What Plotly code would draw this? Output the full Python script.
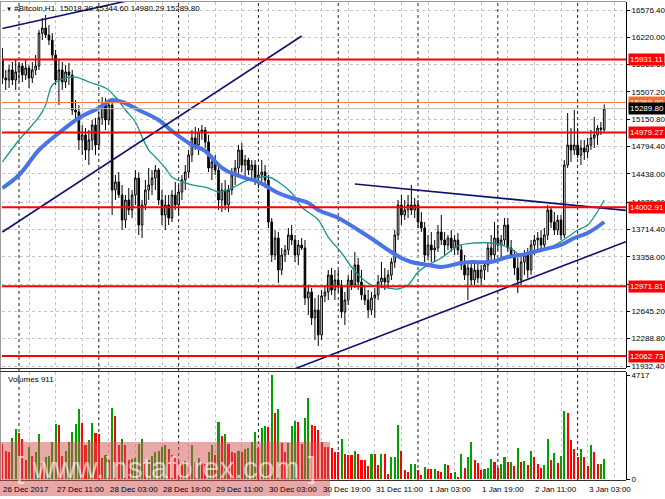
import plotly.graph_objects as go

W, H = 665, 499

# ---------------- data ----------------
time_labels = ["26 Dec 2017", "27 Dec 11:00", "28 Dec 03:00", "28 Dec 19:00", "29 Dec 11:00",
               "30 Dec 03:00", "30 Dec 19:00", "31 Dec 11:00", "1 Jan 03:00", "1 Jan 19:00",
               "2 Jan 11:00", "3 Jan 03:00"]
time_label_bars = [0, 16, 32, 48, 64, 80, 96, 112, 128, 144, 160, 176]
day_separator_bars = [5, 29, 53, 77, 101, 125, 149, 173]

open_ = [15924, 15689, 15663, 15794, 15663, 15768, 15846, 15728, 15820, 15689,
         15794, 15846, 16276, 16342, 16250, 16185, 15989, 15663, 15794, 15637,
         15768, 15728, 15272, 15246, 14881, 14946, 14750, 14881, 15076, 14815,
         15168, 15337, 15141, 15337, 14228, 14333, 14163, 13837, 14098, 13967,
         14163, 14385, 13772, 14033, 14228, 14294, 14385, 14489, 14098, 13902,
         14033, 13863, 14163, 14033, 14202, 14359, 14463, 14685, 14907, 14815,
         14985, 15011, 14854, 14515, 14594, 14489, 14098, 14228, 14033, 14228,
         14424, 14515, 14750, 14554, 14620, 14489, 14554, 14385, 14424, 14463,
         14359, 13811, 13380, 13602, 13185, 13380, 13446, 13641, 13576, 13380,
         13511, 13472, 12819, 12898, 12559, 12663, 12337, 12846, 12898, 13119,
         12924, 13054, 12989, 12637, 12793, 13054, 12989, 13250, 13028, 12859,
         12793, 12663, 12819, 12859, 13028, 13080, 13028, 13119, 13289, 13641,
         14033, 13902, 13967, 14033, 13967, 14033, 13811, 13733, 13380, 13511,
         13446, 13472, 13680, 13576, 13511, 13602, 13472, 13576, 13446, 13250,
         13119, 13211, 13054, 13185, 13080, 13185, 13250, 13472, 13380, 13602,
         13511, 13576, 13772, 13472, 13380, 13211, 13054, 13289, 13380, 13185,
         13511, 13576, 13602, 13511, 13641, 13967, 13811, 13706, 13837, 13641,
         14554, 14815, 14750, 14815, 14685, 14776, 14724, 14815, 14907, 14946,
         15037, 15018.39]
high = [16081, 15794, 15859, 15898, 15924, 15898, 15885, 15924, 15859, 15898,
        15989, 16315, 16472, 16511, 16381, 16276, 16055, 15924, 15898, 15859,
        15885, 15794, 15402, 15337, 15076, 15037, 15011, 15141, 15168, 15246,
        15441, 15428, 15402, 15402, 14424, 14463, 14294, 14163, 14254, 14228,
        14489, 14463, 14098, 14359, 14515, 14489, 14554, 14515, 14228, 14163,
        14163, 14228, 14333, 14294, 14424, 14554, 14750, 15011, 15050, 15037,
        15076, 15050, 14946, 14685, 14685, 14581, 14320, 14359, 14294, 14515,
        14620, 14815, 14841, 14685, 14646, 14620, 14620, 14515, 14620, 14554,
        14424, 13863, 13706, 13680, 13472, 13511, 13733, 13772, 13641, 13576,
        13602, 13576, 12989, 12950, 12819, 12859, 12924, 12989, 13185, 13211,
        13185, 13185, 13054, 12898, 13119, 13185, 13420, 13341, 13185, 12989,
        12924, 12898, 12950, 13119, 13289, 13211, 13185, 13341, 13706, 14098,
        14163, 14098, 14163, 14294, 14124, 14098, 13941, 13811, 13641, 13680,
        13576, 13772, 13902, 13680, 13641, 13706, 13641, 13667, 13511, 13380,
        13289, 13315, 13289, 13289, 13250, 13289, 13537, 13641, 13811, 13772,
        13641, 13863, 13863, 13576, 13446, 13341, 13380, 13446, 13472, 13576,
        13641, 13680, 13706, 13733, 14033, 13993, 13941, 13902, 13902, 14620,
        15233, 15037, 15272, 15037, 14881, 14881, 14907, 15011, 15181, 15076,
        15115, 15344.60]
low = [15611, 15533, 15559, 15598, 15533, 15637, 15637, 15663, 15559, 15624,
       15728, 15794, 16185, 16211, 16120, 15924, 15598, 15337, 15533, 15559,
       15598, 15207, 15141, 14750, 14685, 14620, 14554, 14750, 14685, 14750,
       15076, 15011, 15076, 13902, 14098, 14124, 13706, 13733, 13902, 13863,
       14033, 13641, 13602, 13967, 14098, 14163, 14228, 14033, 13772, 13706,
       13772, 13811, 13967, 13902, 14098, 14228, 14385, 14594, 14750, 14685,
       14881, 14776, 14463, 14359, 14424, 13967, 13941, 13967, 13941, 14163,
       14294, 14424, 14463, 14385, 14424, 14385, 14294, 14254, 14333, 14254,
       13733, 13289, 13315, 13015, 13119, 13289, 13380, 13511, 13289, 13250,
       13446, 12728, 12598, 12467, 12272, 12193, 12272, 12767, 12793, 12859,
       12793, 12898, 12559, 12467, 12728, 12924, 12950, 12924, 12793, 12728,
       12559, 12598, 12559, 12793, 12950, 12924, 12950, 13054, 13211, 13576,
       13772, 13837, 13863, 13902, 13863, 13733, 13680, 13289, 13315, 13289,
       13289, 13420, 13511, 13380, 13446, 13420, 13380, 13380, 13185, 13054,
       12793, 12989, 12989, 13015, 12989, 13054, 13159, 13289, 13315, 13446,
       13341, 13511, 13420, 13341, 13119, 12885, 12989, 13119, 13080, 13119,
       13380, 13446, 13420, 13446, 13576, 13733, 13641, 13641, 13576, 13602,
       14515, 14594, 14685, 14646, 14554, 14620, 14646, 14750, 14776, 14815,
       14946, 14980.29]
close = [15689, 15663, 15794, 15663, 15768, 15846, 15728, 15820, 15689, 15794,
         15846, 16276, 16342, 16250, 16185, 15989, 15663, 15794, 15637, 15768,
         15728, 15272, 15246, 14881, 14946, 14750, 14881, 15076, 14815, 15168,
         15337, 15141, 15337, 14228, 14333, 14163, 13837, 14098, 13967, 14163,
         14385, 13772, 14033, 14228, 14294, 14385, 14489, 14098, 13902, 14033,
         13863, 14163, 14033, 14202, 14359, 14463, 14685, 14907, 14815, 14985,
         15011, 14854, 14515, 14594, 14489, 14098, 14228, 14033, 14228, 14424,
         14515, 14750, 14554, 14620, 14489, 14554, 14385, 14424, 14463, 14359,
         13811, 13380, 13602, 13185, 13380, 13446, 13641, 13576, 13380, 13511,
         13472, 12819, 12898, 12559, 12663, 12337, 12846, 12898, 13119, 12924,
         13054, 12989, 12637, 12793, 13054, 12989, 13250, 13028, 12859, 12793,
         12663, 12819, 12859, 13028, 13080, 13028, 13119, 13289, 13641, 14033,
         13902, 13967, 14033, 13967, 14033, 13811, 13733, 13380, 13511, 13446,
         13472, 13680, 13576, 13511, 13602, 13472, 13576, 13446, 13250, 13119,
         13211, 13054, 13185, 13080, 13185, 13250, 13472, 13380, 13602, 13511,
         13576, 13772, 13472, 13380, 13211, 13054, 13289, 13380, 13185, 13511,
         13576, 13602, 13511, 13641, 13967, 13811, 13706, 13837, 13641, 14554,
         14815, 14750, 14815, 14685, 14776, 14724, 14815, 14907, 14946, 15037,
         15018.39, 15289.80]
volume = [1603, 1292, 1245, 1868, 2257, 2070, 1806, 856, 1448, 1059,
          1245, 2039, 747, 981, 1059, 1681, 2506, 2428, 1059, 1292,
          1681, 2117, 2506, 3191, 2537, 1525, 1759, 2537, 2070, 2060,
          950, 1090, 872, 3238, 2849, 1525, 1806, 1525, 872, 903,
          934, 1603, 1837, 747, 872, 1059, 1214, 1292, 1448, 1525,
          1339, 1090, 1012, 778, 747, 825, 669, 1525, 794, 934,
          716, 669, 1214, 1525, 1090, 2569, 1961, 2024, 1603, 1214,
          1183, 1292, 1214, 1339, 1401, 1681, 2148, 1401, 2304, 2382,
          2351, 4717, 2973, 3191, 1635, 1214, 1650, 2382, 2615, 2569,
          1603, 2771, 3674, 2460, 2382, 2226, 1681, 1448, 1440, 1401,
          1245, 1240, 1806, 1136, 1105, 1090, 1292, 1136, 872, 850,
          592, 1136, 1120, 623, 1136, 1120, 249, 981, 1012, 2428,
          1292, 405, 311, 669, 700, 405, 202, 560, 467, 436,
          467, 358, 311, 669, 623, 280, 327, 93, 1136, 514,
          1012, 1681, 856, 747, 389, 436, 514, 903, 794, 514,
          669, 1012, 778, 794, 592, 1401, 778, 825, 638, 1292,
          981, 669, 514, 638, 1806, 872, 1183, 716, 1059, 3082,
          2973, 1759, 1339, 981, 1339, 981, 592, 1526, 1214, 669,
          700, 911]

ma_fast_bars = [0, 5, 11, 13, 15, 18, 22, 26, 31, 34, 37, 40, 42, 44, 46, 49, 51, 55, 57, 62,
                65, 69, 74, 80, 83, 87, 90, 95, 98, 102, 105, 108, 111, 116, 119, 122, 125, 128,
                132, 137, 142, 147, 152, 156, 159, 165, 170, 173, 176, 181]
ma_fast_vals = [14594, 14881, 15181, 15337, 15598, 15676, 15702, 15637, 15559, 15441, 15272,
                15115, 14920, 14750, 14659, 14515, 14398, 14320, 14294, 14254, 14202, 14254,
                14359, 14398, 14333, 14189, 14007, 13837, 13615, 13407, 13224, 13080, 12989,
                12950, 12937, 12989, 13159, 13250, 13341, 13498, 13537, 13537, 13485, 13380,
                13407, 13485, 13615, 13706, 13772, 14098]
ma_slow_bars = [0, 5, 11, 17, 23, 29, 33, 36, 41, 47, 51, 57, 61, 65, 67, 72, 77, 83, 87, 92,
                95, 101, 107, 113, 116, 120, 123, 128, 132, 138, 141, 147, 152, 156, 162, 168,
                172, 176, 181]
ma_slow_vals = [14254, 14424, 14750, 14972, 15168, 15298, 15402, 15376, 15272, 15141, 14998,
                14815, 14737, 14554, 14489, 14398, 14333, 14189, 14124, 14059, 13967, 13863,
                13706, 13537, 13446, 13341, 13289, 13250, 13224, 13276, 13289, 13289, 13354,
                13380, 13446, 13511, 13602, 13667, 13811]

trend_lines = {
    "top": ([0, 40], [16335, 16719]),
    "channel": ([0, 90], [13680, 16237]),
    "resistance": ([106, 187.5], [14307, 13962]),
    "support": ([88, 187.5], [11897, 13554]),
}
red_levels = [15931.11, 14979.27, 14002.91, 12971.81, 12062.73]
orange_level = 15369.80
bid_level = 15289.80

price_ticks = [16576.40, 16220.00, 15863.60, 15507.20, 15150.80, 14794.40, 14438.00,
               14070.80, 13714.40, 13358.00, 13001.60, 12645.20, 12288.80, 11932.40]
volume_ticks = [0, 4717]

symbol_title = "#Bitcoin,H1"
last_ohlc = [15018.39, 15344.60, 14980.29, 15289.80]

# ---------------- layout helpers (pixels -> paper) ----------------
def px(x):
    return x / W

def py(y):
    return (H - y) / H

FONT = "Liberation Sans, Arial, sans-serif"
bars = list(range(len(close)))

vol_colors = []
for i, v in enumerate(volume):
    up = i > 0 and v > volume[i - 1]
    vol_colors.append("#00a000" if up else "#ff0000")

fig = go.Figure()

fig.add_trace(go.Candlestick(
    x=bars, open=open_, high=high, low=low, close=close,
    increasing=dict(line=dict(color="black", width=1), fillcolor="white"),
    decreasing=dict(line=dict(color="black", width=1), fillcolor="black"),
    whiskerwidth=0, showlegend=False, hoverinfo="skip",
    xaxis="x", yaxis="y"))

fig.add_trace(go.Scatter(x=ma_fast_bars, y=ma_fast_vals, mode="lines",
                         line=dict(color="#12968a", width=1.3, shape="spline"),
                         showlegend=False, hoverinfo="skip", xaxis="x", yaxis="y"))
fig.add_trace(go.Scatter(x=ma_slow_bars, y=ma_slow_vals, mode="lines",
                         line=dict(color="#4a73e6", width=4, shape="spline"),
                         showlegend=False, hoverinfo="skip", xaxis="x", yaxis="y"))

for name, (tx, ty) in trend_lines.items():
    fig.add_trace(go.Scatter(x=tx, y=ty, mode="lines",
                             line=dict(color="#10106e", width=1.6),
                             showlegend=False, hoverinfo="skip", xaxis="x", yaxis="y"))

fig.add_trace(go.Bar(x=bars, y=volume, marker=dict(color=vol_colors, line=dict(width=0)),
                     width=0.62, showlegend=False, hoverinfo="skip",
                     xaxis="x2", yaxis="y2"))

x_range = [(2 - 2.4) / 3.325, (626 - 2.4) / 3.325]
grid_kw = dict(showgrid=True, gridcolor="#c4c4c4", griddash="3px,3px", gridwidth=1)

fig.update_layout(
    width=W, height=H, autosize=False,
    margin=dict(l=0, r=0, t=0, b=0),
    paper_bgcolor="white", plot_bgcolor="white",
    font=dict(family=FONT, size=8, color="black"),
    showlegend=False,
    bargap=0,
    xaxis=dict(domain=[px(2), px(626)], range=x_range, anchor="y",
               tickmode="linear", tick0=0, dtick=8, showticklabels=False, ticks="",
               zeroline=False, showline=False, rangeslider=dict(visible=False),
               fixedrange=True, **grid_kw),
    xaxis2=dict(domain=[px(2), px(626)], range=x_range, anchor="y2", matches="x",
                tickmode="linear", tick0=0, dtick=8, showticklabels=False, ticks="",
                zeroline=False, showline=False, **grid_kw),
    yaxis=dict(domain=[py(368), py(2)], range=[16706.85 - 13.045 * 368, 16706.85 - 13.045 * 2],
               side="right", anchor="x", tickmode="array", tickvals=price_ticks,
               ticktext=["%.2f" % v for v in price_ticks], ticks="outside", ticklen=3,
               tickcolor="black", showline=True, linecolor="black", linewidth=1,
               zeroline=False, automargin=False, tickfont=dict(size=8, family=FONT),
               **grid_kw),
    yaxis2=dict(domain=[py(480), py(372)], range=[-(480 - 479) * 45.36, (479 - 372) * 45.36],
                side="right", anchor="x2", tickmode="array", tickvals=volume_ticks,
                ticktext=[str(v) for v in volume_ticks], ticks="outside", ticklen=3,
                tickcolor="black", showline=True, linecolor="black", linewidth=1,
                showgrid=False, zeroline=False, automargin=False,
                tickfont=dict(size=8, family=FONT)),
)

shapes = []
# day separators (period separators)
for b in day_separator_bars:
    shapes.append(dict(type="line", xref="x", yref="paper", x0=b, x1=b, y0=py(480), y1=py(2),
                       line=dict(color="#202020", width=1, dash="dot"), layer="below"))
# horizontal levels
for lv in red_levels:
    shapes.append(dict(type="line", xref="paper", yref="y", x0=px(2), x1=px(626), y0=lv, y1=lv,
                       line=dict(color="#ff0000", width=2)))
shapes.append(dict(type="line", xref="paper", yref="y", x0=px(2), x1=px(626),
                   y0=orange_level, y1=orange_level, line=dict(color="#ff7a45", width=1)))
shapes.append(dict(type="line", xref="paper", yref="y", x0=px(2), x1=px(626),
                   y0=bid_level, y1=bid_level, line=dict(color="#b8b8b8", width=1)))
# frame lines
shapes.append(dict(type="line", xref="paper", yref="paper", x0=0, x1=px(626), y0=py(1.5), y1=py(1.5),
                   line=dict(color="#9a9a9a", width=1)))
shapes.append(dict(type="line", xref="paper", yref="paper", x0=px(0.5), x1=px(0.5), y0=py(480), y1=py(2),
                   line=dict(color="#9a9a9a", width=1)))
shapes.append(dict(type="line", xref="paper", yref="paper", x0=0, x1=px(626), y0=py(368.5), y1=py(368.5),
                   line=dict(color="#303030", width=1)))
shapes.append(dict(type="line", xref="paper", yref="paper", x0=0, x1=px(626), y0=py(371.5), y1=py(371.5),
                   line=dict(color="#303030", width=1)))
shapes.append(dict(type="line", xref="paper", yref="paper", x0=0, x1=px(626), y0=py(480.5), y1=py(480.5),
                   line=dict(color="#303030", width=1)))
# watermark box
shapes.append(dict(type="rect", xref="paper", yref="paper", x0=0, x1=px(330), y0=py(496), y1=py(442),
                   fillcolor="rgba(209,81,81,0.5)", line=dict(width=0), layer="above"))
fig.update_layout(shapes=shapes)

ann = []
# time labels
for t, b in zip(time_labels, time_label_bars):
    ann.append(dict(x=b, y=py(489), xref="x2", yref="paper", text=t, showarrow=False,
                    xanchor="left", yanchor="middle", xshift=-1,
                    font=dict(size=8, family=FONT, color="black")))
# price level boxes
for lv in red_levels:
    ann.append(dict(x=px(627.5), y=lv, xref="paper", yref="y", text="%.2f" % lv, showarrow=False,
                    xanchor="left", yanchor="middle", bgcolor="#ff0000", borderpad=1,
                    font=dict(size=8, family=FONT, color="white")))
ann.append(dict(x=px(627.5), y=orange_level, xref="paper", yref="y", text="%.2f" % orange_level,
                showarrow=False, xanchor="left", yanchor="middle", bgcolor="#ff6a2a", borderpad=1,
                font=dict(size=8, family=FONT, color="white")))
ann.append(dict(x=px(627.5), y=bid_level, xref="paper", yref="y", text="%.2f" % bid_level,
                showarrow=False, xanchor="left", yanchor="middle", bgcolor="black", borderpad=1,
                font=dict(size=8, family=FONT, color="white")))
# title
ann.append(dict(x=px(4), y=py(8), xref="paper", yref="paper",
                text="<span style='font-size:6px'>▼</span> " + symbol_title + "  " +
                     " ".join("%.2f" % v for v in last_ohlc),
                showarrow=False, xanchor="left", yanchor="middle",
                font=dict(size=8, family=FONT, color="black")))
ann.append(dict(x=px(6), y=py(379), xref="paper", yref="paper", text="Volumes %d" % volume[-1],
                showarrow=False, xanchor="left", yanchor="middle",
                font=dict(size=8, family=FONT, color="black")))
# watermark text
ann.append(dict(x=px(166), y=py(467), xref="paper", yref="paper", text="[ www.instaforex.com ]",
                showarrow=False, xanchor="center", yanchor="middle",
                font=dict(size=30, family=FONT, color="rgba(255,255,255,0.6)")))
fig.update_layout(annotations=ann)

fig.write_html("out.html", config={"displayModeBar": False},
               post_script="document.body.style.margin='0';document.body.style.padding='0';"
                           "document.body.style.overflow='hidden';")
